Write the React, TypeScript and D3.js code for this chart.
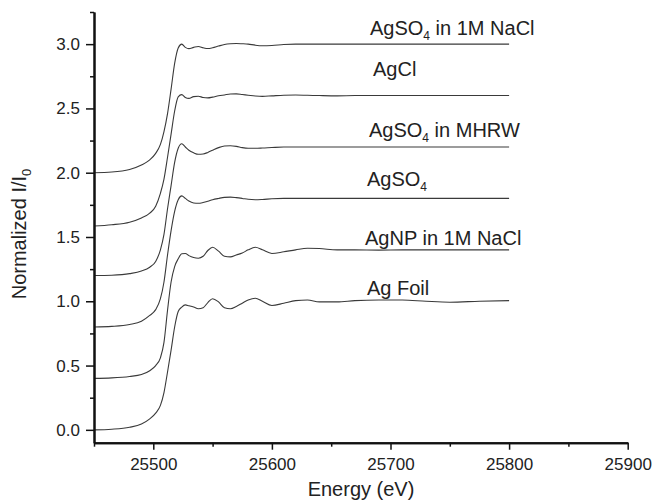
import React, { useEffect, useRef } from "react"
import * as d3 from "d3"

// energy grid (eV), shared by every spectrum
const energy = [25450, 25465, 25480, 25490, 25497, 25502, 25506, 25509, 25512, 25515, 25518, 25521, 25524, 25527, 25530, 25534, 25538, 25542, 25546, 25550, 25555, 25560, 25565, 25570, 25575, 25580, 25586, 25592, 25600, 25610, 25620, 25630, 25640, 25655, 25670, 25690, 25710, 25730, 25750, 25775, 25800]

const agso4NaCl = [2.0, 2.005, 2.025, 2.06, 2.1, 2.15, 2.22, 2.32, 2.46, 2.65, 2.85, 2.97, 3.0, 2.975, 2.965, 2.975, 2.982, 2.972, 2.966, 2.972, 2.985, 2.997, 3.003, 3.005, 3.003, 3.0, 2.992, 2.988, 2.99, 2.997, 3.0, 3.0, 3.0, 3.0, 3.0, 3.0, 3.0, 3.0, 3.0, 3.0, 3.0]
const agcl = [1.585, 1.595, 1.615, 1.648, 1.685, 1.74, 1.84, 1.95, 2.12, 2.3, 2.48, 2.59, 2.607, 2.585, 2.578, 2.592, 2.595, 2.585, 2.582, 2.588, 2.598, 2.605, 2.612, 2.613, 2.608, 2.603, 2.597, 2.594, 2.598, 2.603, 2.604, 2.602, 2.6, 2.598, 2.6, 2.6, 2.6, 2.6, 2.6, 2.6, 2.6]
const agso4Mhrw = [1.2, 1.203, 1.215, 1.235, 1.265, 1.31, 1.4, 1.52, 1.72, 1.9, 2.08, 2.19, 2.225, 2.2, 2.175, 2.155, 2.143, 2.145, 2.158, 2.175, 2.195, 2.208, 2.21, 2.205, 2.195, 2.19, 2.19, 2.192, 2.196, 2.2, 2.2, 2.2, 2.2, 2.2, 2.2, 2.2, 2.2, 2.2, 2.2, 2.2, 2.2]
const agso4 = [0.8, 0.805, 0.82, 0.845, 0.89, 0.935, 1.02, 1.15, 1.36, 1.55, 1.7, 1.79, 1.82, 1.8, 1.78, 1.765, 1.762, 1.768, 1.778, 1.79, 1.8, 1.808, 1.81, 1.806, 1.8, 1.793, 1.79, 1.792, 1.797, 1.8, 1.8, 1.8, 1.8, 1.8, 1.8, 1.8, 1.8, 1.8, 1.8, 1.8, 1.8]
const agnpNaCl = [0.4, 0.404, 0.415, 0.43, 0.46, 0.5, 0.56, 0.68, 0.93, 1.15, 1.27, 1.33, 1.37, 1.372, 1.355, 1.34, 1.335, 1.35, 1.395, 1.42, 1.39, 1.35, 1.345, 1.36, 1.375, 1.4, 1.42, 1.4, 1.372, 1.385, 1.4, 1.412, 1.41, 1.4, 1.4, 1.398, 1.4, 1.4, 1.4, 1.4, 1.4]
const agFoil = [0.0, 0.005, 0.02, 0.045, 0.085, 0.13, 0.19, 0.29, 0.45, 0.62, 0.8, 0.92, 0.955, 0.972, 0.965, 0.955, 0.942, 0.95, 0.99, 1.02, 0.995, 0.95, 0.942, 0.96, 0.985, 1.01, 1.024, 1.0, 0.967, 0.985, 1.005, 1.01, 0.995, 0.995, 1.005, 1.01, 1.01, 1.0, 0.993, 1.0, 1.005]

const series = [agso4NaCl, agcl, agso4Mhrw, agso4, agnpNaCl, agFoil]
// label text: [main, subscript, rest]
const labels = [
  ["AgSO", "4", " in 1M NaCl"],
  ["AgCl", "", ""],
  ["AgSO", "4", " in MHRW"],
  ["AgSO", "4", ""],
  ["AgNP in 1M NaCl", "", ""],
  ["Ag Foil", "", ""],
]

const xMajor = [25500, 25600, 25700, 25800, 25900]
const xMinor = [25450, 25550, 25650, 25750, 25850]
const yMajor = [0, 0.5, 1.0, 1.5, 2.0, 2.5, 3.0]
const yMinor = [0.25, 0.75, 1.25, 1.75, 2.25, 2.75, 3.25]

const labelX = [370, 373, 369, 367, 365, 367]
const labelLift = [9, 20, 10, 12, 5, 6]

const FONT = "'Liberation Sans', Arial, sans-serif"

export default function App() {
  const ref = useRef<SVGSVGElement>(null)

  useEffect(() => {
    const svg = d3.select(ref.current)
    svg.selectAll("*").remove()

    const x = d3.scaleLinear().domain([25450, 25900]).range([94, 627.7])
    const y = d3.scaleLinear().domain([-0.1, 3.25]).range([442.7, 12])

    const line = d3.line<number>()
      .x((d, i) => x(energy[i]))
      .y(d => y(d))
      .curve(d3.curveMonotoneX)

    series.forEach(s => {
      svg.append("path")
        .attr("d", line(s))
        .attr("fill", "none")
        .attr("stroke", "#3a3a3a")
        .attr("stroke-width", 1.1)
    })

    // axes
    const xAxis = svg.append("g").attr("transform", "translate(0,442.7)")
    xAxis.call(d3.axisBottom(x).tickValues(xMajor).tickSize(7).tickSizeOuter(0).tickPadding(8).tickFormat(d3.format("d")))
    xAxis.append("g").call(d3.axisBottom(x).tickValues(xMinor).tickSize(4).tickSizeOuter(0).tickFormat(() => ""))
    const yAxis = svg.append("g").attr("transform", "translate(94,0)")
    yAxis.call(d3.axisLeft(y).tickValues(yMajor).tickSize(8).tickSizeOuter(0).tickPadding(6).tickFormat(d3.format(".1f")))
    yAxis.append("g").call(d3.axisLeft(y).tickValues(yMinor).tickSize(4).tickSizeOuter(0).tickFormat(() => ""))

    svg.selectAll(".domain").attr("stroke", "#111").attr("stroke-width", 2)
    svg.selectAll(".tick line").attr("stroke", "#111").attr("stroke-width", 1.5)
    svg.selectAll(".tick text").attr("font-family", FONT).attr("font-size", 17).attr("fill", "#222")

    // spectrum labels
    labels.forEach((lab, i) => {
      const last = series[i][series[i].length - 1]
      const t = svg.append("text")
        .attr("x", labelX[i])
        .attr("y", y(last) - labelLift[i])
        .attr("font-family", FONT)
        .attr("font-size", 20)
        .attr("fill", "#222")
      t.append("tspan").text(lab[0])
      if (lab[1]) t.append("tspan").attr("dy", 5).attr("font-size", 12).text(lab[1])
      if (lab[2]) t.append("tspan").attr("dy", -5).text(lab[2])
    })

    // axis titles
    svg.append("text")
      .attr("x", 361).attr("y", 496)
      .attr("text-anchor", "middle")
      .attr("font-family", FONT).attr("font-size", 20).attr("fill", "#222")
      .text("Energy (eV)")

    const yt = svg.append("text")
      .attr("transform", "translate(26,234) rotate(-90)")
      .attr("text-anchor", "middle")
      .attr("font-family", FONT).attr("font-size", 20).attr("fill", "#222")
    yt.append("tspan").text("Normalized I/I")
    yt.append("tspan").attr("dy", 5).attr("font-size", 13).text("0")
  }, [])

  return (
    <svg ref={ref} width={652} height={504}
      style={{ position: "absolute", left: 0, top: 0, background: "#fff" }} />
  )
}
